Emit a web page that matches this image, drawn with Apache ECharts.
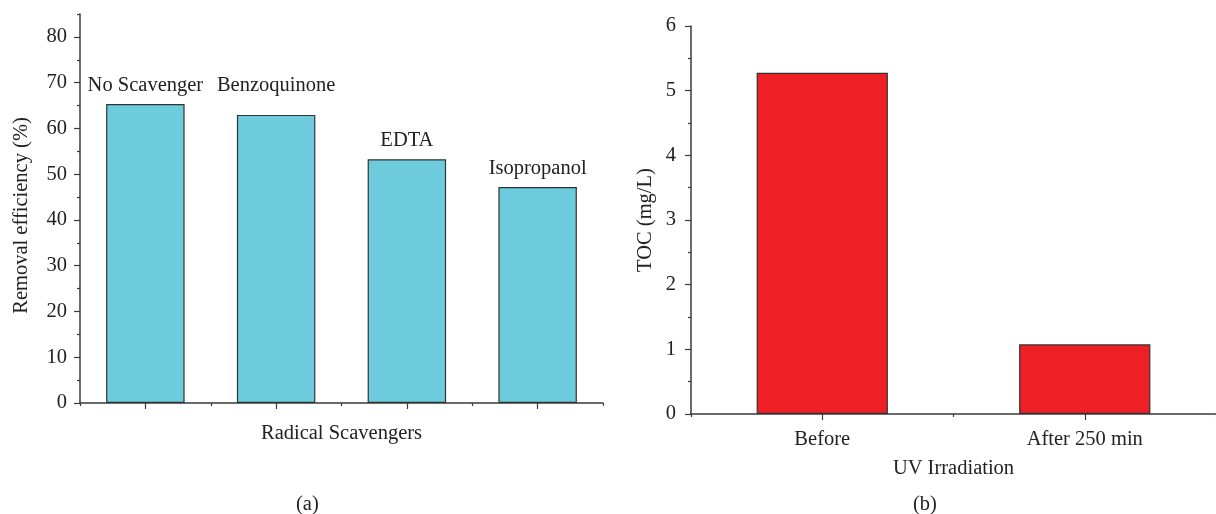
<!DOCTYPE html>
<html>
<head>
<meta charset="utf-8">
<script src="https://cdn.jsdelivr.net/npm/echarts@6/dist/echarts.min.js"></script>
<style>
  html, body { margin: 0; padding: 0; background: #fff; }
  #chart { width: 1216px; height: 514px; }
</style>
</head>
<body>
<div id="chart"></div>
<script>
// Panel (a): removal efficiency with different radical scavengers
const scavengers = ['No Scavenger', 'Benzoquinone', 'EDTA', 'Isopropanol'];
const removalEfficiency = [65.35, 62.95, 53.27, 47.2];
const effMajorTicks = [0, 10, 20, 30, 40, 50, 60, 70, 80];
const effMinorTicks = [5, 15, 25, 35, 45, 55, 65, 75, 85];

// Panel (b): total organic carbon before/after UV irradiation
const uvStages = ['Before', 'After 250 min'];
const tocValues = [5.278, 1.078];

const FONT = 'Liberation Serif';
const TXT = '#222';
const AXIS = '#3a3a3a';
const FS = 20.5;

// extra lift for labels that would collide with a neighbour
const labelLift = { 'Benzoquinone': 11 };

const chart = echarts.init(document.getElementById('chart'), null, { renderer: 'canvas' });

const axisLineStyle = { lineStyle: { color: AXIS, width: 1.5 } };
const tickStyle = { lineStyle: { color: AXIS, width: 1.2 } };
const labelStyle = { color: TXT, fontFamily: FONT, fontSize: FS };

const option = {
  animation: false,
  backgroundColor: '#fff',
  title: [
    { text: '(a)', left: 296, top: 494, textStyle: { fontFamily: FONT, fontSize: FS, fontWeight: 'normal', color: TXT }, padding: 0 },
    { text: '(b)', left: 913, top: 494, textStyle: { fontFamily: FONT, fontSize: FS, fontWeight: 'normal', color: TXT }, padding: 0 }
  ],
  grid: [
    { left: 80, right: 613, top: 14, bottom: 111 },
    { left: 691, right: -2, top: 26, bottom: 100 }
  ],
  xAxis: [
    {
      gridIndex: 0, type: 'category', position: 'bottom', data: scavengers,
      name: 'Radical Scavengers', nameLocation: 'middle', nameGap: 20,
      nameTextStyle: labelStyle,
      axisLine: axisLineStyle,
      axisTick: { show: true, alignWithLabel: true, length: 6, ...tickStyle },
      axisLabel: { show: false }
    },
    {
      gridIndex: 0, type: 'category', position: 'bottom', data: scavengers,
      axisLine: { show: false },
      axisTick: { show: true, alignWithLabel: false, length: 3, ...tickStyle },
      axisLabel: { show: false }
    },
    {
      gridIndex: 1, type: 'category', position: 'bottom', data: uvStages,
      name: 'UV Irradiation', nameLocation: 'middle', nameGap: 44,
      nameTextStyle: labelStyle,
      axisLine: axisLineStyle,
      axisTick: { show: true, alignWithLabel: true, length: 6, ...tickStyle },
      axisLabel: { ...labelStyle, margin: 15 }
    },
    {
      gridIndex: 1, type: 'category', position: 'bottom', data: uvStages,
      axisLine: { show: false },
      axisTick: { show: true, alignWithLabel: false, length: 3, ...tickStyle },
      axisLabel: { show: false }
    }
  ],
  yAxis: [
    {
      gridIndex: 0, type: 'value', position: 'left', min: 0, max: 85, interval: 10,
      name: 'Removal efficiency (%)', nameLocation: 'middle', nameGap: 48,
      nameTextStyle: { ...labelStyle, padding: [0, 14, 0, 0] },
      axisLine: { show: true, ...axisLineStyle },
      axisTick: { show: true, length: 6, customValues: effMajorTicks, ...tickStyle },
      axisLabel: { ...labelStyle, margin: 13, customValues: effMajorTicks },
      splitLine: { show: false }
    },
    {
      gridIndex: 0, type: 'value', position: 'left', min: 0, max: 85, interval: 5,
      axisLine: { show: false },
      axisTick: { show: true, length: 3, customValues: effMinorTicks, ...tickStyle },
      axisLabel: { show: false },
      splitLine: { show: false }
    },
    {
      gridIndex: 1, type: 'value', position: 'left', min: 0, max: 6, interval: 1,
      name: 'TOC (mg/L)', nameLocation: 'middle', nameGap: 35,
      nameTextStyle: labelStyle,
      axisLine: { show: true, ...axisLineStyle },
      axisTick: { show: true, length: 6, ...tickStyle },
      minorTick: { show: true, splitNumber: 2, length: 3, lineStyle: { color: AXIS, width: 1.2 } },
      axisLabel: { ...labelStyle, margin: 15 },
      splitLine: { show: false }
    }
  ],
  series: [
    {
      type: 'bar', xAxisIndex: 0, yAxisIndex: 0, barWidth: '60%',
      data: removalEfficiency.map((v, i) => ({
        value: v,
        label: { distance: 8 + (labelLift[scavengers[i]] || 0) }
      })),
      itemStyle: { color: '#6ccbdd', borderColor: '#333', borderWidth: 1.2 },
      label: { show: true, position: 'top', formatter: '{b}', ...labelStyle }
    },
    {
      type: 'bar', xAxisIndex: 2, yAxisIndex: 2, barWidth: '50%',
      data: tocValues,
      itemStyle: { color: '#ee1f25', borderColor: '#333', borderWidth: 1.2 }
    }
  ]
};

chart.setOption(option);
</script>
</body>
</html>
